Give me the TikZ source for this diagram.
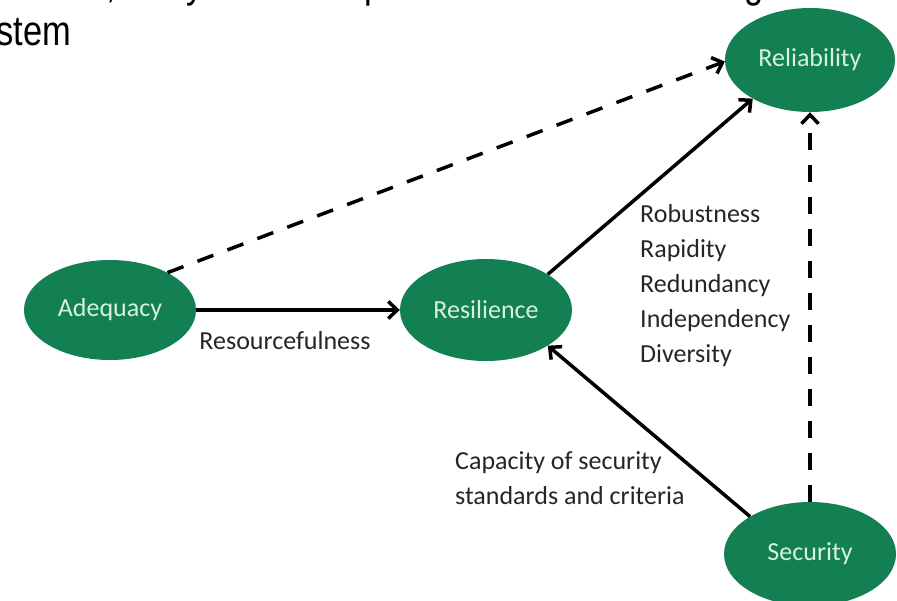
\documentclass[tikz,border=0pt]{standalone}
\usepackage{fontspec}
\setmainfont{Carlito}
\newfontfamily\headfont{Liberation Sans}
\usetikzlibrary{arrows.meta,shapes.geometric}
\definecolor{nodegreen}{RGB}{18,128,82}
\definecolor{nodetext}{RGB}{214,242,222}
\definecolor{labeltext}{RGB}{38,38,38}
\begin{document}
\begin{tikzpicture}[x=1pt,y=-1pt,
  concept/.style={ellipse, fill=nodegreen, text=nodetext, inner sep=0pt,
    font=\fontsize{26}{30}\selectfont},
  link/.style={line width=3.5pt, line cap=butt,
    -{Straight Barb[length=9pt,width=17pt]}},
  linkdash/.style={link, dash pattern=on 17pt off 15pt},
  note/.style={text=labeltext, font=\fontsize{26}{35}\selectfont,
    align=left, inner sep=0pt},
  head/.style={font=\headfont\fontsize{42}{48}\selectfont,
    inner sep=0pt, anchor=base west}]
\useasboundingbox (0,0) rectangle (897,600);
\clip (0,0) rectangle (897,600);

% heading text running off the top and left edges
\node[head] (hcomma) at (106,-3) {\scalebox{0.82}[1]{,}};
\node[head] (hy) at (186,-3) {\scalebox{0.82}[1]{y}};
\node[head] (hp) at (364,-3) {\scalebox{0.82}[1]{p}};
\node[head] (hg) at (744,-3) {\scalebox{0.82}[1]{g}};
\node[head] (hsystem) at (-38,45) {\scalebox{0.82}[1]{system}};

% concepts
\node[concept, minimum width=172pt, minimum height=100pt] (adequacy) at (110,310) {Adequacy};
\node[concept, minimum width=172pt, minimum height=102pt] (resilience) at (486,310) {Resilience};
\node[concept, minimum width=170pt, minimum height=104pt] (reliability) at (810,60) {Reliability};
\node[concept, minimum width=172pt, minimum height=104pt] (security) at (810,554) {Security};

% relations
\draw[linkdash] (adequacy.33) -- (reliability.181);
\draw[link] (adequacy.east) -- (resilience.west);
\draw[link] (resilience.30) -- (reliability.214);
\draw[linkdash] (security.north) -- (reliability.south);
\draw[link] (security.148) -- (resilience.-30);

% labels
\node[note] (resourcefulness) at (285,341) {Resourcefulness};
\node[note, anchor=west] (factors) at (640,286)
  {Robustness\\Rapidity\\Redundancy\\Independency\\Diversity};
\node[note, anchor=west] (capacity) at (455,478)
  {Capacity of security\\standards and criteria};
\end{tikzpicture}
\end{document}
